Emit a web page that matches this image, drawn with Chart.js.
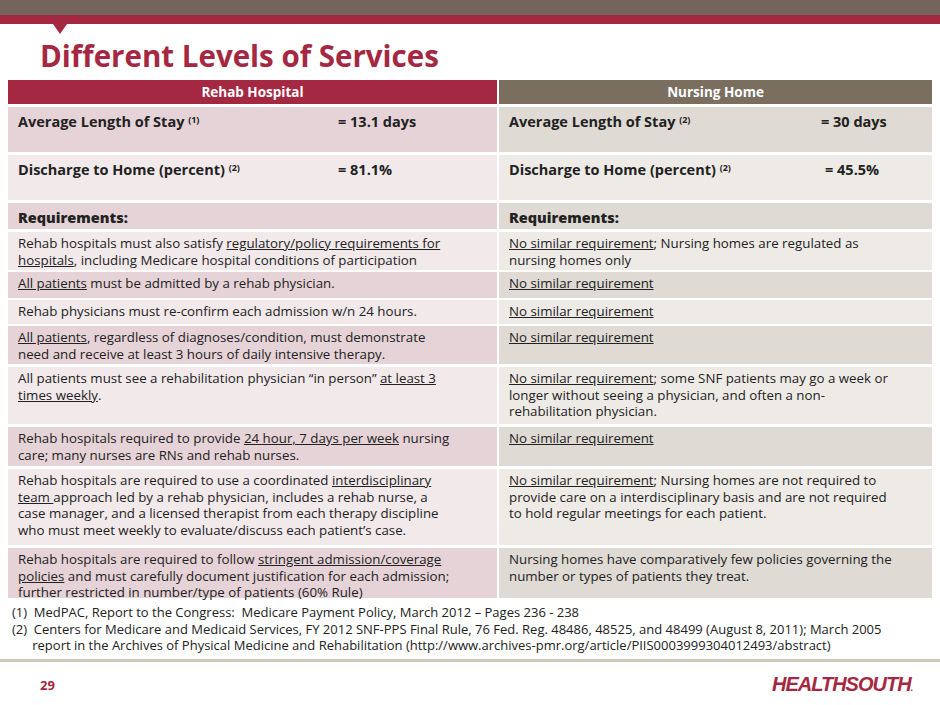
<!DOCTYPE html>
<html><head><meta charset="utf-8">
<script src="https://cdn.jsdelivr.net/npm/chart.js@4/dist/chart.umd.min.js"></script>
<style>
body{margin:0;width:940px;height:705px;position:relative;background:#fff;font-family:"Open Sans","DejaVu Sans",sans-serif;overflow:hidden}
.abs{position:absolute}
.cell{position:absolute;box-sizing:border-box;padding:3px 10px;font-size:13.3px;line-height:16.5px;color:#222;white-space:nowrap}
.hd{color:#fff;font-weight:bold;font-size:13.5px;text-align:center;display:flex;align-items:center;justify-content:center}
.big{font-weight:bold;font-size:14.5px;padding-top:7px}
u{text-decoration:underline}
sup{font-size:9px;line-height:0;vertical-align:4px}
</style></head><body>
<div class="abs" style="left:0;top:0;width:940px;height:15px;background:#746459"></div>
<div class="abs" style="left:0;top:15px;width:940px;height:9px;background:#a52842"></div>
<div class="abs" style="left:53px;top:24px;width:0;height:0;border-left:7px solid transparent;border-right:7px solid transparent;border-top:10px solid #a52842"></div>
<div class="abs" style="left:40px;top:35px;font-size:29.5px;font-weight:bold;color:#a52842">Different Levels of Services</div>
<div id="tbl"></div>
<div id="foot" class="abs" style="left:12px;top:604px;font-size:13px;line-height:16.5px;color:#222;width:920px"></div>
<div class="abs" style="left:0;top:659px;width:940px;height:3px;background:#cfc8bc"></div>
<div class="abs" style="left:40px;top:676px;font-size:13px;font-weight:bold;color:#a52842">29</div>
<div class="abs" style="left:772px;top:673px;font-size:20px;font-weight:900;font-style:italic;color:#a52842;letter-spacing:-1px;font-family:'Liberation Sans',sans-serif">HEALTHSOUTH<span style="font-size:9px">.</span></div>
<canvas id="c" width="1" height="1" style="position:absolute;left:0;top:0;width:1px;height:1px"></canvas>
<script>
const headers=["Rehab Hospital","Nursing Home"];
const statLeft=[["Average Length of Stay <sup>(1)</sup>","= 13.1 days"],["Discharge to Home (percent) <sup>(2)</sup>","= 81.1%"]];
const statRight=[["Average Length of Stay <sup>(2)</sup>","= 30 days"],["Discharge to Home (percent) <sup>(2)</sup>","= 45.5%"]];
const leftCells=["<b>Requirements:</b>",
"Rehab hospitals must also satisfy <u>regulatory/policy requirements for</u><br><u>hospitals</u>, including Medicare hospital conditions of participation",
"<u>All patients</u> must be admitted by a rehab physician.",
"Rehab physicians must re-confirm each admission w/n 24 hours.",
"<u>All patients</u>, regardless of diagnoses/condition, must demonstrate<br>need and receive at least 3 hours of daily intensive therapy.",
"All patients must see a rehabilitation physician “in person” <u>at least 3</u><br><u>times weekly</u>.",
"Rehab hospitals required to provide <u>24 hour, 7 days per week</u> nursing<br>care; many nurses are RNs and rehab nurses.",
"Rehab hospitals are required to use a coordinated <u>interdisciplinary</u><br><u>team </u>approach led by a rehab physician, includes a rehab nurse, a<br>case manager, and a licensed therapist from each therapy discipline<br>who must meet weekly to evaluate/discuss each patient’s case.",
"Rehab hospitals are required to follow <u>stringent admission/coverage</u><br><u>policies</u> and must carefully document justification for each admission;<br>further restricted in number/type of patients (60% Rule)"];
const rightCells=["<b>Requirements:</b>",
"<u>No similar requirement</u>; Nursing homes are regulated as<br>nursing homes only",
"<u>No similar requirement</u>","<u>No similar requirement</u>","<u>No similar requirement</u>",
"<u>No similar requirement</u>; some SNF patients may go a week or<br>longer without seeing a physician, and often a non-<br>rehabilitation physician.",
"<u>No similar requirement</u>",
"<u>No similar requirement</u>; Nursing homes are not required to<br>provide care on a interdisciplinary basis and are not required<br>to hold regular meetings for each patient.",
"Nursing homes have comparatively few policies governing the<br>number or types of patients they treat."];
const footnotes=["(1)&nbsp; MedPAC, Report to the Congress:&nbsp; Medicare Payment Policy, March 2012 – Pages 236 - 238",
"(2)&nbsp; Centers for Medicare and Medicaid Services, FY 2012 SNF-PPS Final Rule, 76 Fed. Reg. 48486, 48525, and 48499 (August 8, 2011); March 2005<br>&nbsp;&nbsp;&nbsp;&nbsp;&nbsp; report in the Archives of Physical Medicine and Rehabilitation (http://www.archives-pmr.org/article/PIIS0003999304012493/abstract)"];
const rows=[[107,152],[155,200],[203,229],[232,270],[272,298],[300,324],[326,364],[367,424],[427,466],[469,545],[548,598]];
const L=[8,497],R=[499,932];
let h='';
h+=`<div class="cell hd" style="left:${L[0]}px;top:80px;width:${L[1]-L[0]}px;height:24px;background:#a52842">${headers[0]}</div>`;
h+=`<div class="cell hd" style="left:${R[0]}px;top:80px;width:${R[1]-R[0]}px;height:24px;background:#7a6e5f">${headers[1]}</div>`;
rows.forEach((r,i)=>{
 const shade=i%2===0;
 const lb=shade?'#e6d3d7':'#f2e9eb', rb=shade?'#dfdad4':'#eeebe7';
 let lc,rc,cls='cell';
 if(i<2){cls='cell big';
  lc=`${statLeft[i][0]}<span style="position:absolute;left:330px">${statLeft[i][1]}</span>`;
  rc=`${statRight[i][0]}<span style="position:absolute;left:${i==0?322:326}px">${statRight[i][1]}</span>`;}
 else{lc=leftCells[i-2];rc=rightCells[i-2];if(i===2)cls='cell big';}
 h+=`<div class="${cls}" style="left:${L[0]}px;top:${r[0]}px;width:${L[1]-L[0]}px;height:${r[1]-r[0]}px;background:${lb}">${lc}</div>`;
 h+=`<div class="${cls}" style="left:${R[0]}px;top:${r[0]}px;width:${R[1]-R[0]}px;height:${r[1]-r[0]}px;background:${rb}">${rc}</div>`;
});
document.getElementById('tbl').innerHTML=h;
document.getElementById('foot').innerHTML=footnotes.join('<br>');
if(window.Chart){new Chart(document.getElementById('c'),{type:'bar',data:{labels:[],datasets:[]},options:{responsive:false,animation:false,plugins:{legend:{display:false}}}});}
</script>
</body></html>
